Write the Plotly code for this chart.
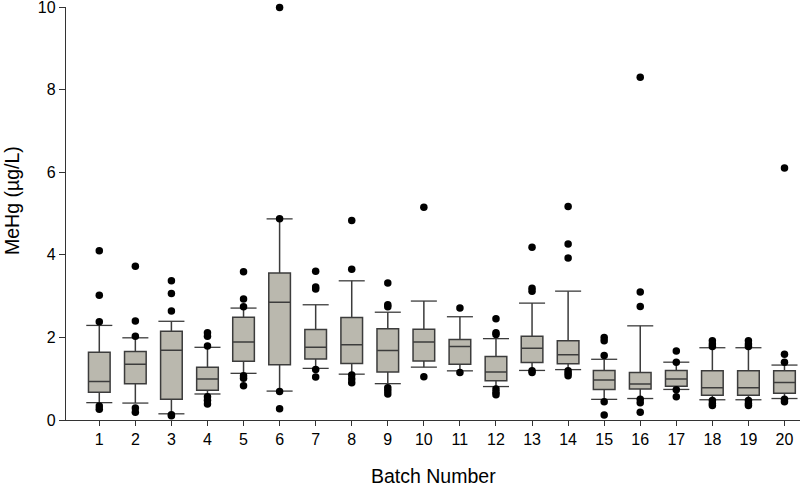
import plotly.graph_objects as go

batches = list(range(1, 21))

q1 = [0.67, 0.88, 0.50, 0.72, 1.42, 1.34, 1.48, 1.37, 1.16, 1.43,
      1.35, 0.95, 1.39, 1.36, 0.74, 0.75, 0.82, 0.60, 0.60, 0.65]
median = [0.93, 1.35, 1.69, 0.99, 1.89, 2.85, 1.76, 1.82, 1.68, 1.89,
          1.78, 1.16, 1.74, 1.58, 0.97, 0.87, 0.99, 0.78, 0.78, 0.91]
q3 = [1.64, 1.66, 2.15, 1.28, 2.49, 3.56, 2.19, 2.48, 2.21, 2.20,
      1.95, 1.54, 2.03, 1.92, 1.20, 1.15, 1.20, 1.19, 1.19, 1.19]
lower = [0.42, 0.41, 0.15, 0.63, 1.13, 0.70, 1.25, 1.11, 0.88, 1.28,
         1.19, 0.81, 1.20, 1.22, 0.50, 0.52, 0.74, 0.49, 0.49, 0.52]
upper = [2.29, 1.99, 2.39, 1.76, 2.71, 4.87, 2.79, 3.37, 2.61, 2.88,
         2.50, 1.97, 2.83, 3.12, 1.47, 2.28, 1.40, 1.75, 1.75, 1.33]

outliers = {
    1: [4.10, 3.02, 2.38, 0.34, 0.26],
    2: [3.72, 2.40, 2.03, 0.29, 0.19],
    3: [3.37, 3.06, 2.64, 0.13, 0.10],
    4: [2.11, 2.03, 1.79, 0.56, 0.48, 0.39],
    5: [3.59, 2.93, 2.74, 1.07, 1.01, 0.83],
    6: [9.99, 4.87, 0.69, 0.27],
    7: [3.60, 3.22, 3.17, 1.22, 1.04],
    8: [4.83, 3.65, 1.09, 0.99, 0.90],
    9: [3.32, 2.79, 2.74, 0.78, 0.71, 0.63],
    10: [5.15, 1.05],
    11: [2.71, 1.15],
    12: [2.45, 2.11, 2.07, 0.75, 0.67, 0.61],
    13: [4.18, 3.19, 3.12, 1.19, 1.15],
    14: [5.17, 4.26, 3.92, 1.19, 1.13, 1.07],
    15: [2.00, 1.92, 1.56, 0.44, 0.12],
    16: [8.30, 3.10, 2.75, 0.50, 0.42, 0.19],
    17: [1.67, 1.40, 0.73, 0.56],
    18: [1.92, 1.84, 1.78, 0.47, 0.40, 0.35],
    19: [1.92, 1.84, 1.78, 0.47, 0.40, 0.35],
    20: [6.10, 1.59, 1.40, 0.50, 0.44],
}

x_title = "Batch Number"
y_title = "MeHg (µg/L)"

FONT = "Liberation Sans, Arial, sans-serif"
W, H = 800, 486
ML, MR, MT, MB = 66, 0, 7, 66
PW, PH = W - ML - MR, H - MT - MB

fig = go.Figure()

fig.add_trace(go.Box(
    x=batches, q1=q1, median=median, q3=q3,
    lowerfence=lower, upperfence=upper,
    boxpoints=False, width=0.6, whiskerwidth=0,
    fillcolor="#BAB8AE",
    line=dict(color="#3c3c3c", width=1.5),
    showlegend=False, hoverinfo="skip",
))

# whisker caps (wider than the box)
fig.add_trace(go.Scatter(
    x=batches + batches, y=lower + upper, mode="markers",
    marker=dict(symbol="line-ew", size=18.6,
                line=dict(color="#3c3c3c", width=1.3)),
    showlegend=False, hoverinfo="skip", cliponaxis=False,
))

ox, oy = [], []
for b in batches:
    for v in outliers[b]:
        ox.append(b)
        oy.append(v)
fig.add_trace(go.Scatter(
    x=ox, y=oy, mode="markers",
    marker=dict(color="black", size=7.5, line=dict(width=0)),
    showlegend=False, hoverinfo="skip", cliponaxis=False,
))

fig.update_layout(
    width=W, height=H,
    margin=dict(l=ML, r=MR, t=MT, b=MB, autoexpand=False),
    plot_bgcolor="white", paper_bgcolor="white",
    font=dict(family=FONT, size=16, color="black"),
    xaxis=dict(
        range=[0.077, 20.43], tickmode="array", tickvals=batches,
        ticktext=[str(b) for b in batches],
        showgrid=False, zeroline=False,
        showline=True, linecolor="#333", linewidth=1.3,
        ticks="outside", ticklen=5, tickwidth=1, tickcolor="#333",
        tickfont=dict(size=16), ticklabeloverflow="allow",
    ),
    yaxis=dict(
        range=[0, 10], tickvals=[0, 2, 4, 6, 8, 10],
        showgrid=False, zeroline=False,
        showline=True, linecolor="#333", linewidth=1.3,
        ticks="outside", ticklen=6, tickwidth=1, tickcolor="#333",
        tickfont=dict(size=16), ticklabeloverflow="allow",
    ),
    annotations=[
        dict(text=x_title, xref="paper", yref="paper",
             x=(433 - ML) / PW, y=-(476 - MT - PH) / PH,
             xanchor="center", yanchor="middle", showarrow=False,
             font=dict(size=19.5, family=FONT, color="black")),
        dict(text=y_title, xref="paper", yref="paper",
             x=-(ML - 12) / PW, y=(MT + PH - 201) / PH,
             xanchor="center", yanchor="middle", textangle=-90,
             showarrow=False,
             font=dict(size=19.5, family=FONT, color="black")),
    ],
)

fig.write_html("out.html", config={"displayModeBar": False},
               post_script="document.body.style.margin='0';")
